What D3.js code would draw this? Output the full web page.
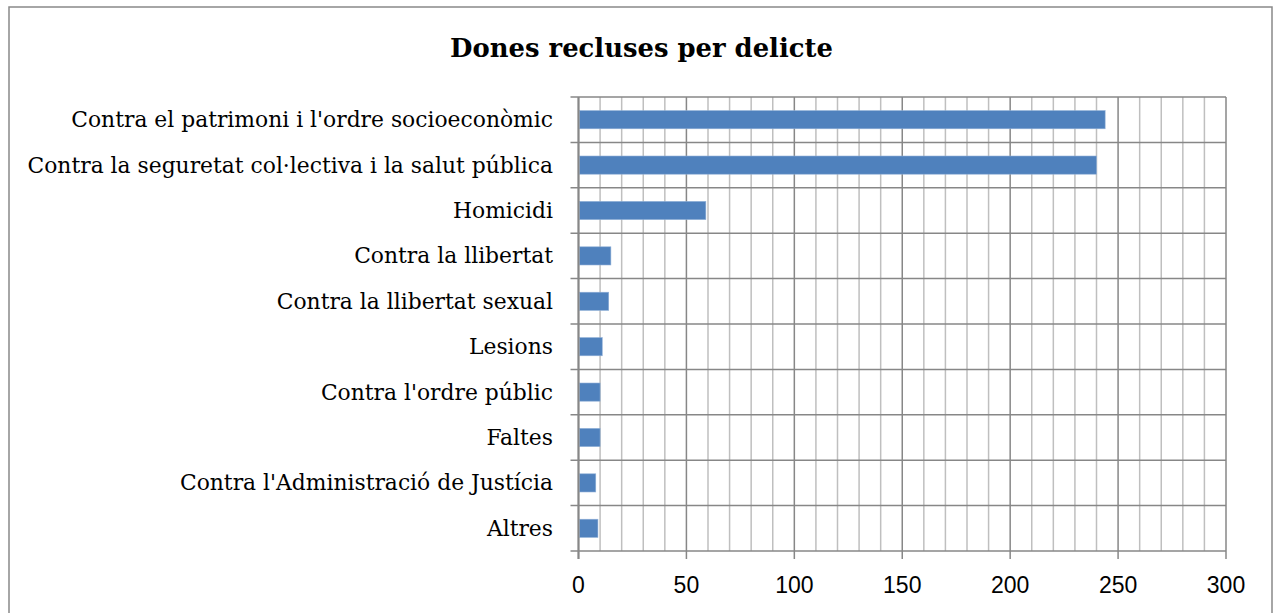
<!DOCTYPE html>
<html><head><meta charset="utf-8">
<script src="https://cdn.jsdelivr.net/npm/d3@7"></script>
<style>html,body{margin:0;padding:0;background:#fff;overflow:hidden}</style>
</head><body>
<svg id="c" width="1279" height="613"></svg>
<script>
const categories = [
  "Contra el patrimoni i l'ordre socioeconòmic",
  "Contra la seguretat col·lectiva i la salut pública",
  "Homicidi",
  "Contra la llibertat",
  "Contra la llibertat sexual",
  "Lesions",
  "Contra l'ordre públic",
  "Faltes",
  "Contra l'Administració de Justícia",
  "Altres"
];
const values = [244, 240, 59, 15, 14, 11, 10, 10, 8, 9];
const xTicks = [0, 50, 100, 150, 200, 250, 300];
const minorTicks = d3.range(0, 301, 10);
const title = "Dones recluses per delicte";

const svg = d3.select("#c");
const m = {left: 578.5, right: 1226, top: 97, bottom: 551};

svg.append("rect").attr("x", 9).attr("y", 7).attr("width", 1263).attr("height", 620)
  .attr("fill", "#fff").attr("stroke", "#898989").attr("stroke-width", 1.5);

const x = d3.scaleLinear().domain([0, 300]).range([m.left, m.right]);
const y = d3.scaleBand().domain(categories).range([m.top, m.bottom]).paddingInner(0.6).paddingOuter(0.3);
const yEdge = d3.scaleLinear().domain([0, categories.length]).range([m.top, m.bottom]);

svg.append("g").selectAll("line").data(minorTicks.filter(d => d % 50 !== 0)).join("line")
  .attr("x1", d => x(d)).attr("x2", d => x(d)).attr("y1", m.top).attr("y2", m.bottom)
  .attr("stroke", "#bfbfbf").attr("stroke-width", 1.5);
svg.append("g").selectAll("line").data(xTicks).join("line")
  .attr("x1", d => x(d)).attr("x2", d => x(d)).attr("y1", m.top).attr("y2", m.bottom + 8)
  .attr("stroke", "#878787").attr("stroke-width", 1.5);
svg.append("g").selectAll("line").data(d3.range(categories.length + 1)).join("line")
  .attr("x1", m.left - 8).attr("x2", m.right).attr("y1", d => yEdge(d)).attr("y2", d => yEdge(d))
  .attr("stroke", "#878787").attr("stroke-width", 1.5);

svg.append("g").selectAll("rect").data(categories).join("rect")
  .attr("x", x(0) + 1).attr("y", d => y(d))
  .attr("width", (d, i) => x(values[i]) - x(0) - 1).attr("height", y.bandwidth())
  .attr("fill", "#4f81bd").attr("stroke", "#8eaed6").attr("stroke-width", 0.6);

svg.append("line").attr("x1", x(0)).attr("x2", x(0)).attr("y1", m.top).attr("y2", m.bottom + 8)
  .attr("stroke", "#878787").attr("stroke-width", 2);

const labels = svg.append("g").selectAll("text").data(categories).join("text")
  .attr("x", 553).attr("y", d => y(d) + y.bandwidth() / 2 + 7.5)
  .attr("text-anchor", "end").attr("font-family", "DejaVu Serif, serif")
  .attr("font-size", 20).attr("fill", "#000").text(d => d);
// fit label font so the longest label spans the same width as in the reference
const maxW = d3.max(labels.nodes(), n => n.getComputedTextLength());
labels.attr("font-size", 20 * 526 / maxW);

svg.append("g").selectAll("text").data(xTicks).join("text")
  .attr("x", d => x(d)).attr("y", 593).attr("text-anchor", "middle")
  .attr("font-family", "Liberation Sans, sans-serif").attr("font-size", 23).attr("fill", "#000")
  .text(d => d);

const t = svg.append("text").attr("x", 641.5).attr("y", 57).attr("text-anchor", "middle")
  .attr("font-family", "DejaVu Serif, serif").attr("font-weight", "bold")
  .attr("font-size", 28).attr("fill", "#000").text(title);
t.attr("font-size", 28 * 383 / t.node().getComputedTextLength());
</script>
</body></html>
